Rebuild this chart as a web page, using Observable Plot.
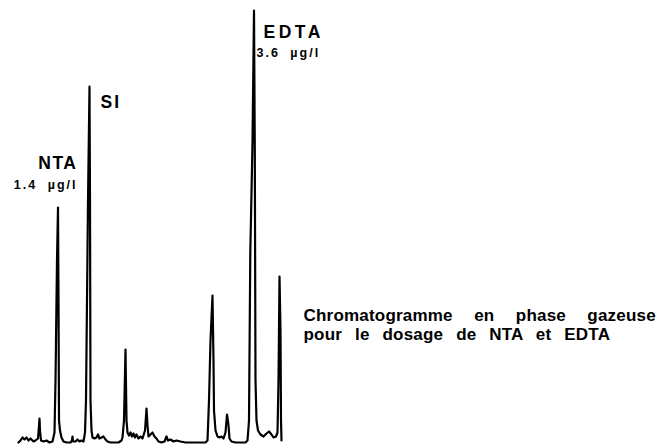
<!DOCTYPE html>
<html>
<head>
<meta charset="utf-8">
<script src="https://cdn.jsdelivr.net/npm/d3@7"></script>
<script src="https://cdn.jsdelivr.net/npm/@observablehq/plot@0.6"></script>
<style>
  html, body { margin: 0; padding: 0; background: #fff; }
  #chart svg { display: block; }
</style>
</head>
<body>
<div id="chart"></div>
<script>
// Retention time (min) and detector signal (arbitrary units)
const traceTime = [
  1.8, 2.0, 2.2, 2.4, 2.6, 2.8, 3.0, 3.3, 3.5, 3.75, 3.85, 3.9, 3.95, 4.05, 4.3, 4.6, 4.9, 5.2,
  5.4, 5.5, 5.65, 5.75, 5.8, 5.85, 5.95, 6.1, 6.3, 6.6, 7.0, 7.15, 7.2, 7.25, 7.5, 7.7, 7.9, 8.1, 8.3,
  8.45, 8.55, 8.75, 8.9, 8.95, 9.0, 9.1, 9.2, 9.4, 9.6, 9.75, 9.9, 10.1, 10.3, 10.5, 10.7, 11.0,
  11.8, 12.1, 12.2, 12.35, 12.5, 12.6, 12.7, 12.85, 13.0, 13.15, 13.3, 13.45, 13.6, 13.8, 14.0, 14.2,
  14.45, 14.6, 14.7, 14.8, 15.0, 15.2, 15.4, 15.6, 15.8, 16.1, 16.4, 16.6, 16.75, 17.0, 17.3, 17.6,
  18.0, 18.5, 19.0, 20.0, 20.5, 20.7, 20.85, 21.0, 21.2, 21.3, 21.35, 21.5, 21.7, 21.9, 22.1, 22.3,
  22.5, 22.65, 22.8, 22.9, 23.1, 23.5, 24.0, 24.5, 24.7, 24.85, 24.98, 25.2, 25.35, 25.43, 25.5,
  25.6, 25.75, 26.0, 26.3, 26.6, 26.85, 27.1, 27.3, 27.55, 27.7, 27.8, 27.9, 28.0, 28.05, 28.1
];
const traceSignal = [
  0, 2, 5, 3, 5, 2, 4, 1, 2, 4, 17, 24, 12, 2, 1, 2, 0, 1,
  10, 62, 182, 235, 142, 22, 12, 5, 1, 0, 0, 2, 6, 1, 1, 3, 1, 2, 1,
  10, 42, 242, 356, 242, 42, 12, 5, 4, 5, 8, 4, 5, 6, 3, 1, 0,
  0, 2, 5, 22, 93, 22, 10, 7, 10, 6, 9, 5, 8, 4, 6, 4,
  12, 34, 17, 6, 8, 10, 6, 4, 1, 0, 1, 6, 2, 3, 1, 2,
  1, 0, 0, 0, 0, 2, 42, 102, 147, 82, 32, 12, 6, 5, 6, 4,
  10, 28, 17, 4, 1, 0, 0, 0, 2, 22, 190, 300, 432, 292, 62,
  22, 12, 8, 6, 9, 11, 8, 5, 6, 10, 62, 166, 112, 22, 2
];

// Labelled peaks
const peakNames = ["NTA", "SI", "EDTA"];
const peakTimes = [5.75, 8.9, 25.35];
const peakHeights = [235, 356, 432];
const peakAmounts = ["1.4 µg/l", "", "3.6 µg/l"];

const captionLines = ["Chromatogramme en phase gazeuse", "pour le dosage de NTA et EDTA"];

const trace = traceTime.map((t, i) => ({t, s: traceSignal[i]}));
const peaks = peakNames.map((name, i) => ({name, t: peakTimes[i], s: peakHeights[i], amount: peakAmounts[i]}));

const font = "'Liberation Sans', Arial, Helvetica, sans-serif";
const nameStyle = {fontFamily: font, fontWeight: "bold", fontSize: 17.5, fill: "#000", lineAnchor: "bottom"};
const amountStyle = {fontFamily: font, fontWeight: "bold", fontSize: 12.5, fill: "#000", lineAnchor: "bottom"};

const chart = Plot.plot({
  width: 657,
  height: 446,
  marginTop: 0,
  marginBottom: 4,
  marginLeft: 0,
  marginRight: 0,
  style: {background: "#fff", overflow: "visible"},
  x: {domain: [0, 65.7], axis: null},
  y: {domain: [0, 442], axis: null},
  marks: [
    Plot.line(trace, {x: "t", y: "s", stroke: "#000", strokeWidth: 2.2, strokeLinejoin: "round", curve: "linear"}),
    // NTA
    Plot.text(peaks.filter(d => d.name === "NTA"), {x: "t", y: "s", text: "name", textAnchor: "end", dx: 19.5, dy: -39, ...nameStyle}),
    Plot.text(peaks.filter(d => d.name === "NTA"), {x: "t", y: "s", text: "amount", textAnchor: "end", dx: 19.5, dy: -19, ...amountStyle}),
    // SI
    Plot.text(peaks.filter(d => d.name === "SI"), {x: "t", y: "s", text: "name", textAnchor: "start", dx: 11, dy: 21, ...nameStyle}),
    // EDTA
    Plot.text(peaks.filter(d => d.name === "EDTA"), {x: "t", y: "s", text: "name", textAnchor: "start", dx: 9.5, dy: 27, ...nameStyle}),
    Plot.text(peaks.filter(d => d.name === "EDTA"), {x: "t", y: "s", text: "amount", textAnchor: "start", dx: 2.5, dy: 46, ...amountStyle}),
    // caption (two typeset lines in one text)
    Plot.text([captionLines.join("\n")], {text: d => d, frameAnchor: "top-left", textAnchor: "start", dx: 303, dy: 339.5,
      lineAnchor: "bottom", lineHeight: 19.5 / 17, fontFamily: font, fontWeight: "bold", fontSize: 17, fill: "#000"})
  ]
});

// letter / word spacing of the typeset labels
const texts = chart.querySelectorAll("g[aria-label='text']");
const spacing = [
  ["1.5px", "0px"], ["2px", "5px"], ["2px", "0px"], ["3.5px", "0px"], ["2px", "5px"], ["0.2px", "0px"]
];
texts.forEach((g, i) => {
  if (spacing[i]) {
    g.style.letterSpacing = spacing[i][0];
    g.style.wordSpacing = spacing[i][1];
  }
});
// justified caption: wider word gaps on the first line
const captionSpans = texts[texts.length - 1].querySelectorAll("tspan");
const captionWordGaps = ["16.5px", "8px"];
captionSpans.forEach((s, i) => { s.style.wordSpacing = captionWordGaps[i] || "0px"; });

document.getElementById("chart").appendChild(chart);
</script>
</body>
</html>
